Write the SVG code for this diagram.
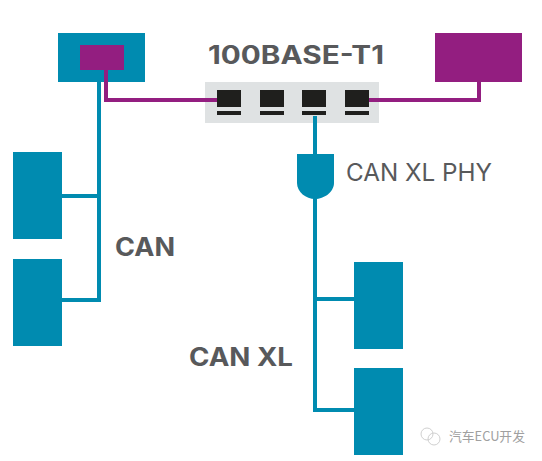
<svg xmlns="http://www.w3.org/2000/svg" width="542" height="461" viewBox="0 0 542 461">
<style>
.t{fill:#008bb0}.p{fill:#931e80}.k{fill:#1f1f1d}
.lt{fill:none;stroke:#008bb0;stroke-width:4}.lp{fill:none;stroke:#931e80;stroke-width:4}
text{font-family:"Inter","Liberation Sans",sans-serif;fill:#58595b}
.b{font-weight:700;font-size:25px}
</style>
<rect width="542" height="461" fill="#fff"/>
<g id="switch"><rect x="205" y="82" width="174" height="41" fill="#dfe2e3"/>
<g class="k">
<rect x="217" y="90" width="24" height="17"/><rect x="217" y="111" width="24" height="4"/>
<rect x="260" y="90" width="24" height="17"/><rect x="260" y="111" width="24" height="4"/>
<rect x="302" y="90" width="24" height="17"/><rect x="302" y="111" width="24" height="4"/>
<rect x="345" y="90" width="24" height="17"/><rect x="345" y="111" width="24" height="4"/></g></g>
<g id="connectors">
<path class="lt" d="M99 82V300H62M99 196H62M315 116V410H354M315 299H354"/>
<path class="lp" d="M106 69V100H217M369 100H479V81"/>
</g>
<g id="ecu-top-left"><rect class="t" x="58" y="33" width="87" height="49"/><rect class="p" x="80" y="45" width="44" height="25"/><path class="lp" d="M106 69V82"/></g>
<g id="ecu-top-right"><rect class="p" x="435" y="33" width="87" height="49"/></g>
<g id="phy"><path class="t" d="M297 154H334V183C334 192 324 199 315 199C306 199 297 192 297 183Z"/></g>
<g id="can-node-1"><rect class="t" x="13" y="152" width="49" height="87"/></g>
<g id="can-node-2"><rect class="t" x="13" y="259" width="49" height="87"/></g>
<g id="canxl-node-1"><rect class="t" x="354" y="262" width="49" height="87"/></g>
<g id="canxl-node-2"><rect class="t" x="354" y="368" width="49" height="87"/></g>
<g id="labels">
<text class="b" x="208" y="64" textLength="176" lengthAdjust="spacingAndGlyphs">100BASE-T1</text>
<text x="346" y="181" font-size="24" textLength="146" lengthAdjust="spacingAndGlyphs">CAN XL PHY</text>
<text class="b" x="115" y="256" textLength="60" lengthAdjust="spacingAndGlyphs">CAN</text>
<text class="b" x="189" y="366" textLength="104" lengthAdjust="spacingAndGlyphs">CAN XL</text>
</g>
<g id="watermark"><g fill="none" stroke="#d0d0d0" stroke-width="1"><circle cx="427" cy="434" r="6"/><circle cx="434" cy="439" r="6"/></g>
<text x="449" y="441" font-size="13" style="font-family:'Noto Sans CJK SC','Liberation Sans',sans-serif;fill:#a0a0a0" textLength="76" lengthAdjust="spacingAndGlyphs">汽车ECU开发</text></g>
</svg>
